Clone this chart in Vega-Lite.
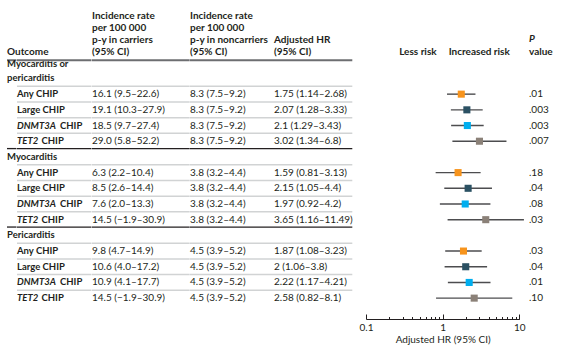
{
  "$schema": "https://vega.github.io/schema/vega-lite/v6.json",
  "background": "white",
  "padding": {"left": 6, "top": 0, "right": 0, "bottom": 0},
  "config": {
    "view": {"stroke": null},
    "font": "Lato",
    "text": {"font": "Lato", "fontSize": 10, "color": "#231f20"}
  },
  "datasets": {
    "rows": [
      {"row": 0, "kind": "section", "section": ["Myocarditis or", "pericarditis"]},
      {"row": 1, "kind": "sub", "sub": "Any CHIP", "group": "Any", "carriers": "16.1 (9.5–22.6)", "noncarriers": "8.3 (7.5–9.2)", "hrText": "1.75 (1.14–2.68)", "p": ".01", "hr": 1.75, "lo": 1.14, "hi": 2.68},
      {"row": 2, "kind": "sub", "sub": "Large CHIP", "group": "Large", "carriers": "19.1 (10.3–27.9)", "noncarriers": "8.3 (7.5–9.2)", "hrText": "2.07 (1.28–3.33)", "p": ".003", "hr": 2.07, "lo": 1.28, "hi": 3.33},
      {"row": 3, "kind": "sub", "gene": "DNMT3A", "sub": "CHIP", "group": "DNMT3A", "carriers": "18.5 (9.7–27.4)", "noncarriers": "8.3 (7.5–9.2)", "hrText": "2.1 (1.29–3.43)", "p": ".003", "hr": 2.1, "lo": 1.29, "hi": 3.43},
      {"row": 4, "kind": "sub", "gene": "TET2", "sub": "CHIP", "group": "TET2", "carriers": "29.0 (5.8–52.2)", "noncarriers": "8.3 (7.5–9.2)", "hrText": "3.02 (1.34–6.8)", "p": ".007", "hr": 3.02, "lo": 1.34, "hi": 6.8},
      {"row": 5, "kind": "section", "section": "Myocarditis"},
      {"row": 6, "kind": "sub", "sub": "Any CHIP", "group": "Any", "carriers": "6.3 (2.2–10.4)", "noncarriers": "3.8 (3.2–4.4)", "hrText": "1.59 (0.81–3.13)", "p": ".18", "hr": 1.59, "lo": 0.81, "hi": 3.13},
      {"row": 7, "kind": "sub", "sub": "Large CHIP", "group": "Large", "carriers": "8.5 (2.6–14.4)", "noncarriers": "3.8 (3.2–4.4)", "hrText": "2.15 (1.05–4.4)", "p": ".04", "hr": 2.15, "lo": 1.05, "hi": 4.4},
      {"row": 8, "kind": "sub", "gene": "DNMT3A", "sub": "CHIP", "group": "DNMT3A", "carriers": "7.6 (2.0–13.3)", "noncarriers": "3.8 (3.2–4.4)", "hrText": "1.97 (0.92–4.2)", "p": ".08", "hr": 1.97, "lo": 0.92, "hi": 4.2},
      {"row": 9, "kind": "sub", "gene": "TET2", "sub": "CHIP", "group": "TET2", "carriers": "14.5 (−1.9–30.9)", "noncarriers": "3.8 (3.2–4.4)", "hrText": "3.65 (1.16–11.49)", "p": ".03", "hr": 3.65, "lo": 1.16, "hi": 11.49},
      {"row": 10, "kind": "section", "section": "Pericarditis"},
      {"row": 11, "kind": "sub", "sub": "Any CHIP", "group": "Any", "carriers": "9.8 (4.7–14.9)", "noncarriers": "4.5 (3.9–5.2)", "hrText": "1.87 (1.08–3.23)", "p": ".03", "hr": 1.87, "lo": 1.08, "hi": 3.23},
      {"row": 12, "kind": "sub", "sub": "Large CHIP", "group": "Large", "carriers": "10.6 (4.0–17.2)", "noncarriers": "4.5 (3.9–5.2)", "hrText": "2 (1.06–3.8)", "p": ".04", "hr": 2, "lo": 1.06, "hi": 3.8},
      {"row": 13, "kind": "sub", "gene": "DNMT3A", "sub": "CHIP", "group": "DNMT3A", "carriers": "10.9 (4.1–17.7)", "noncarriers": "4.5 (3.9–5.2)", "hrText": "2.22 (1.17–4.21)", "p": ".01", "hr": 2.22, "lo": 1.17, "hi": 4.21},
      {"row": 14, "kind": "sub", "gene": "TET2", "sub": "CHIP", "group": "TET2", "carriers": "14.5 (−1.9–30.9)", "noncarriers": "4.5 (3.9–5.2)", "hrText": "2.58 (0.82–8.1)", "p": ".10", "hr": 2.58, "lo": 0.82, "hi": 8.1}
    ],
    "head": [{"b": -1.16}],
    "dark": [{"b": 4.47}, {"b": 9.47}],
    "gray": [{"b": 0.5}, {"b": 1.5}, {"b": 2.5}, {"b": 3.5}, {"b": 5.5}, {"b": 6.5}, {"b": 7.5}, {"b": 8.5}, {"b": 10.5}, {"b": 11.5}, {"b": 12.5}, {"b": 13.5}]
  },
  "bounds": "flush",
  "spacing": 0,
  "hconcat": [
    {
      "width": 9.5, "height": 319,
      "layer": [
        {"data": {"name": "head"}, "mark": {"type": "rule", "color": "#6d6e71", "strokeWidth": 2}, "encoding": {"y": {"field": "b", "type": "quantitative", "scale": {"domain": [-5, 15.33], "reverse": true, "nice": false, "zero": false}, "axis": null}}},
        {"data": {"name": "dark"}, "mark": {"type": "rule", "color": "#231f20", "strokeWidth": 1.3}, "encoding": {"y": {"field": "b", "type": "quantitative", "axis": null}}},
        {"data": {"values": [{"t": "Outcome"}]}, "mark": {"type": "text", "align": "left", "baseline": "alphabetic", "fontWeight": "bold"}, "encoding": {"x": {"datum": 0, "type": "quantitative", "scale": {"domain": [0, 1]}, "axis": null}, "y": {"datum": -1.5, "type": "quantitative", "axis": null}, "text": {"field": "t"}}},
        {"data": {"name": "rows"}, "transform": [{"filter": "datum.kind == 'section' && isString(datum.section)"}], "mark": {"type": "text", "align": "left", "baseline": "middle", "fontWeight": "bold", "fontSize": 9.5}, "encoding": {"x": {"datum": 0, "type": "quantitative", "axis": null}, "y": {"field": "row", "type": "quantitative", "axis": null}, "text": {"field": "section"}}},
        {"data": {"name": "rows"}, "transform": [{"filter": "datum.kind == 'section' && isArray(datum.section)"}], "mark": {"type": "text", "align": "left", "baseline": "middle", "fontWeight": "bold", "fontSize": 9.5, "dy": -14, "lineHeight": 14}, "encoding": {"x": {"datum": 0, "type": "quantitative", "axis": null}, "y": {"field": "row", "type": "quantitative", "axis": null}, "text": {"field": "section"}}}
      ]
    },
    {
      "width": 74.5, "height": 319,
      "layer": [
        {"data": {"name": "head"}, "mark": {"type": "rule", "color": "#6d6e71", "strokeWidth": 2}, "encoding": {"y": {"field": "b", "type": "quantitative", "scale": {"domain": [-5, 15.33], "reverse": true, "nice": false, "zero": false}, "axis": null}}},
        {"data": {"name": "dark"}, "mark": {"type": "rule", "color": "#231f20", "strokeWidth": 1.3}, "encoding": {"y": {"field": "b", "type": "quantitative", "axis": null}}},
        {"data": {"name": "gray"}, "mark": {"type": "rule", "color": "#d1d3d4", "strokeWidth": 1.5}, "encoding": {"y": {"field": "b", "type": "quantitative", "axis": null}}},
        {"data": {"name": "rows"}, "transform": [{"filter": "datum.kind == 'sub' && isString(datum.gene)"}], "mark": {"type": "text", "align": "left", "baseline": "middle", "fontWeight": "bold", "fontStyle": "italic", "fontSize": 9.5}, "encoding": {"x": {"datum": 0, "type": "quantitative", "scale": {"domain": [0, 1]}, "axis": null}, "y": {"field": "row", "type": "quantitative", "axis": null}, "text": {"field": "gene"}}},
        {"data": {"name": "rows"}, "transform": [{"filter": "datum.kind == 'sub'"}], "mark": {"type": "text", "align": "left", "baseline": "middle", "fontWeight": "bold", "fontSize": 9.5, "dx": {"expr": "datum.gene === 'DNMT3A' ? 43 : datum.gene === 'TET2' ? 24.5 : 0"}}, "encoding": {"x": {"datum": 0, "type": "quantitative", "axis": null}, "y": {"field": "row", "type": "quantitative", "axis": null}, "text": {"field": "sub"}}}
      ]
    },
    {
      "width": 97.7, "height": 319,
      "layer": [
        {"data": {"name": "head"}, "mark": {"type": "rule", "color": "#6d6e71", "strokeWidth": 2}, "encoding": {"y": {"field": "b", "type": "quantitative", "scale": {"domain": [-5, 15.33], "reverse": true, "nice": false, "zero": false}, "axis": null}}},
        {"data": {"name": "dark"}, "mark": {"type": "rule", "color": "#231f20", "strokeWidth": 1.3}, "encoding": {"y": {"field": "b", "type": "quantitative", "axis": null}}},
        {"data": {"name": "gray"}, "mark": {"type": "rule", "color": "#d1d3d4", "strokeWidth": 1.5}, "encoding": {"y": {"field": "b", "type": "quantitative", "axis": null}}},
        {"data": {"values": [{"t": ["Incidence rate", "per 100 000", "p-y in carriers", "(95% CI)"]}]}, "mark": {"type": "text", "align": "left", "baseline": "alphabetic", "fontWeight": "bold", "lineHeight": 12.2}, "encoding": {"x": {"datum": 0, "type": "quantitative", "scale": {"domain": [0, 1]}, "axis": null}, "y": {"datum": -3.82, "type": "quantitative", "axis": null}, "text": {"field": "t"}}},
        {"data": {"name": "rows"}, "transform": [{"filter": "datum.kind == 'sub'"}], "mark": {"type": "text", "align": "left", "baseline": "middle"}, "encoding": {"x": {"datum": 0, "type": "quantitative", "axis": null}, "y": {"field": "row", "type": "quantitative", "axis": null}, "text": {"field": "carriers"}}}
      ]
    },
    {
      "width": 84, "height": 319,
      "layer": [
        {"data": {"name": "head"}, "mark": {"type": "rule", "color": "#6d6e71", "strokeWidth": 2}, "encoding": {"y": {"field": "b", "type": "quantitative", "scale": {"domain": [-5, 15.33], "reverse": true, "nice": false, "zero": false}, "axis": null}}},
        {"data": {"name": "dark"}, "mark": {"type": "rule", "color": "#231f20", "strokeWidth": 1.3}, "encoding": {"y": {"field": "b", "type": "quantitative", "axis": null}}},
        {"data": {"name": "gray"}, "mark": {"type": "rule", "color": "#d1d3d4", "strokeWidth": 1.5}, "encoding": {"y": {"field": "b", "type": "quantitative", "axis": null}}},
        {"data": {"values": [{"t": ["Incidence rate", "per 100 000", "p-y in noncarriers", "(95% CI)"]}]}, "mark": {"type": "text", "align": "left", "baseline": "alphabetic", "fontWeight": "bold", "lineHeight": 12.2}, "encoding": {"x": {"datum": 0, "type": "quantitative", "scale": {"domain": [0, 1]}, "axis": null}, "y": {"datum": -3.82, "type": "quantitative", "axis": null}, "text": {"field": "t"}}},
        {"data": {"name": "rows"}, "transform": [{"filter": "datum.kind == 'sub'"}], "mark": {"type": "text", "align": "left", "baseline": "middle"}, "encoding": {"x": {"datum": 0, "type": "quantitative", "axis": null}, "y": {"field": "row", "type": "quantitative", "axis": null}, "text": {"field": "noncarriers"}}}
      ]
    },
    {
      "width": 78.3, "height": 319,
      "layer": [
        {"data": {"name": "head"}, "mark": {"type": "rule", "color": "#6d6e71", "strokeWidth": 2}, "encoding": {"y": {"field": "b", "type": "quantitative", "scale": {"domain": [-5, 15.33], "reverse": true, "nice": false, "zero": false}, "axis": null}}},
        {"data": {"name": "dark"}, "mark": {"type": "rule", "color": "#231f20", "strokeWidth": 1.3}, "encoding": {"y": {"field": "b", "type": "quantitative", "axis": null}}},
        {"data": {"name": "gray"}, "mark": {"type": "rule", "color": "#d1d3d4", "strokeWidth": 1.5}, "encoding": {"y": {"field": "b", "type": "quantitative", "axis": null}}},
        {"data": {"values": [{"t": ["Adjusted HR", "(95% CI)"]}]}, "mark": {"type": "text", "align": "left", "baseline": "alphabetic", "fontWeight": "bold", "lineHeight": 12.2}, "encoding": {"x": {"datum": 0, "type": "quantitative", "scale": {"domain": [0, 1]}, "axis": null}, "y": {"datum": -2.29, "type": "quantitative", "axis": null}, "text": {"field": "t"}}},
        {"data": {"name": "rows"}, "transform": [{"filter": "datum.kind == 'sub'"}], "mark": {"type": "text", "align": "left", "baseline": "middle"}, "encoding": {"x": {"datum": 0, "type": "quantitative", "axis": null}, "y": {"field": "row", "type": "quantitative", "axis": null}, "text": {"field": "hrText"}}}
      ]
    },
    {
      "width": 12.7, "height": 319,
      "data": {"values": []},
      "mark": "point"
    },
    {
      "width": 153.3, "height": 319,
      "layer": [
        {"mark": {"type": "rule", "color": "#58595b", "strokeWidth": 1, "strokeDash": [1, 1.5]}, "encoding": {
          "x": {"datum": 1, "type": "quantitative", "scale": {"type": "log", "domain": [0.1, 10], "nice": false},
            "axis": {
              "values": [0.1, 0.2, 0.3, 0.4, 0.5, 0.6, 0.7, 0.8, 0.9, 1, 2, 3, 4, 5, 6, 7, 8, 9, 10],
              "format": "~g",
              "labelExpr": "datum.value == 0.1 || datum.value == 1 || datum.value == 10 ? datum.label : ''",
              "tickSize": {"condition": {"test": "datum.value == 0.1 || datum.value == 1 || datum.value == 10", "value": -5}, "value": -2.5},
              "tickColor": "#231f20", "tickWidth": 1, "domainColor": "#231f20", "domainWidth": 1,
              "labelFont": "Lato", "labelFontSize": 10, "labelColor": "#231f20", "labelPadding": 8, "labelFlush": false, "labelOverlap": false,
              "grid": false,
              "title": "Adjusted HR (95% CI)", "titleFont": "Lato", "titleFontSize": 10, "titleFontWeight": "normal", "titleColor": "#231f20", "titlePadding": 0
            }},
          "y": {"datum": -2.0, "type": "quantitative", "scale": {"domain": [-5, 15.33], "reverse": true, "nice": false, "zero": false}, "axis": null},
          "y2": {"datum": 14.5}
        }},
        {"data": {"name": "rows"}, "transform": [{"filter": "datum.kind == 'sub'"}], "mark": {"type": "rule", "color": "#4d4d4f", "strokeWidth": 1.4}, "encoding": {
          "x": {"field": "lo", "type": "quantitative"},
          "x2": {"field": "hi"},
          "y": {"field": "row", "type": "quantitative", "axis": null}
        }},
        {"data": {"name": "rows"}, "transform": [{"filter": "datum.kind == 'sub'"}], "mark": {"type": "point", "shape": "square", "filled": true, "size": 50, "opacity": 1}, "encoding": {
          "x": {"field": "hr", "type": "quantitative"},
          "y": {"field": "row", "type": "quantitative", "axis": null},
          "color": {"field": "group", "type": "nominal", "scale": {"domain": ["Any", "Large", "DNMT3A", "TET2"], "range": ["#f7941d", "#2b5163", "#00aeef", "#8b8178"]}, "legend": null}
        }},
        {"data": {"values": [{"t": "Less risk"}]}, "mark": {"type": "text", "align": "right", "baseline": "alphabetic", "fontWeight": "bold", "dx": -6}, "encoding": {"x": {"datum": 1, "type": "quantitative"}, "y": {"datum": -1.5, "type": "quantitative", "axis": null}, "text": {"field": "t"}}},
        {"data": {"values": [{"t": "Increased risk"}]}, "mark": {"type": "text", "align": "left", "baseline": "alphabetic", "fontWeight": "bold", "dx": 6}, "encoding": {"x": {"datum": 1, "type": "quantitative"}, "y": {"datum": -1.5, "type": "quantitative", "axis": null}, "text": {"field": "t"}}}
      ]
    },
    {
      "width": 9, "height": 319,
      "data": {"values": []},
      "mark": "point"
    },
    {
      "width": 30, "height": 319,
      "layer": [
        {"data": {"values": [{"t": "P"}]}, "mark": {"type": "text", "align": "left", "baseline": "alphabetic", "fontWeight": "bold", "fontStyle": "italic"}, "encoding": {"x": {"datum": 0, "type": "quantitative", "scale": {"domain": [0, 1]}, "axis": null}, "y": {"datum": -2.34, "type": "quantitative", "scale": {"domain": [-5, 15.33], "reverse": true, "nice": false, "zero": false}, "axis": null}, "text": {"field": "t"}}},
        {"data": {"values": [{"t": "value"}]}, "mark": {"type": "text", "align": "left", "baseline": "alphabetic", "fontWeight": "bold"}, "encoding": {"x": {"datum": 0, "type": "quantitative", "axis": null}, "y": {"datum": -1.5, "type": "quantitative", "axis": null}, "text": {"field": "t"}}},
        {"data": {"name": "rows"}, "transform": [{"filter": "datum.kind == 'sub'"}], "mark": {"type": "text", "align": "left", "baseline": "middle"}, "encoding": {"x": {"datum": 0, "type": "quantitative", "axis": null}, "y": {"field": "row", "type": "quantitative", "axis": null}, "text": {"field": "p"}}}
      ]
    }
  ]
}
